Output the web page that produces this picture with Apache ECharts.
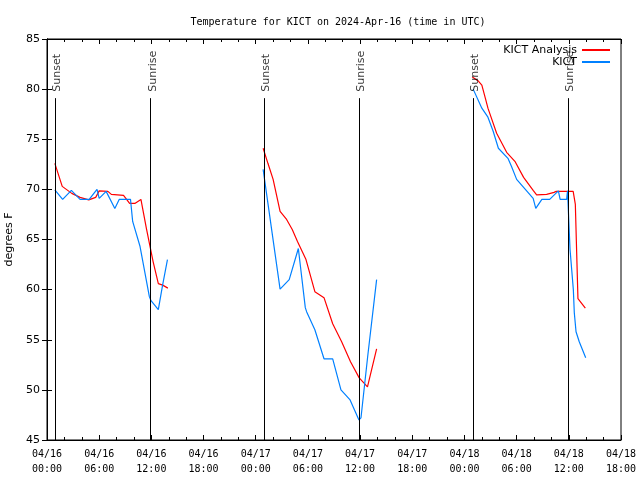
<!DOCTYPE html>
<html><head><meta charset="utf-8">
<script src="https://cdn.jsdelivr.net/npm/echarts@6/dist/echarts.min.js"></script>
<style>html,body{margin:0;padding:0;background:#fff}#c{width:640px;height:480px}</style>
</head><body><div id="c"></div>
<script>
// Hours since 2024-04-16 00:00 UTC
var anaTimes1 = [0.9,1.75,2.85,3.8,4.8,5.6,6.0,7.0,7.4,8.8,9.5,10.1,10.8,11.45,12.2,12.8,13.3,13.9];
var anaVals1  = [72.6,70.3,69.6,69.2,68.95,69.2,69.85,69.8,69.5,69.4,68.6,68.6,69.0,66.0,62.8,60.6,60.45,60.15];
var anaTimes2 = [24.85,25.4,26.0,26.8,27.55,28.2,28.8,29.78,30.8,31.85,32.85,33.88,34.9,35.9,36.85,37.9];
var anaVals2  = [74.1,72.6,71.0,67.8,67.0,66.0,64.8,63.0,59.8,59.2,56.6,54.8,52.8,51.2,50.3,54.1];
var anaTimes3 = [48.9,49.6,50.0,50.4,50.7,51.7,52.85,53.8,54.8,55.9,56.3,57.45,58.3,58.55,60.5,60.75,61.05,61.9];
var anaVals3  = [81.2,80.8,80.4,79.1,78.1,75.6,73.7,72.8,71.2,69.9,69.45,69.5,69.7,69.8,69.8,68.5,59.1,58.15];

var obsTimes1 = [0.9,1.8,2.8,3.8,4.85,5.75,6.0,6.8,7.8,8.3,9.6,9.85,10.7,11.77,11.96,12.8,13.26,13.85];
var obsVals1  = [69.95,69.0,69.9,69.0,69.0,70.0,69.1,69.8,68.1,69.0,69.0,66.8,64.3,59.3,58.9,58.0,60.3,63.0];
var obsTimes2 = [24.85,26.8,27.85,28.9,29.7,29.85,30.8,31.85,32.85,33.8,34.85,35.87,36.1,36.87,37.9];
var obsVals2  = [72.0,60.05,61.0,64.1,58.2,57.8,56.0,53.1,53.1,50.0,49.0,47.0,47.2,53.3,61.0];
var obsTimes3 = [49.0,50.0,50.7,51.3,51.9,53.0,53.4,54.0,55.2,55.9,56.2,56.9,57.8,58.8,59.0,59.75,59.85,60.14,60.33,60.52,60.63,60.83,61.2,61.94];
var obsVals3  = [80.0,78.1,77.2,75.8,74.1,73.1,72.3,71.0,69.8,69.1,68.1,69.0,69.0,69.85,69.0,69.0,69.85,64.0,62.0,60.0,57.7,55.8,54.8,53.2];

var sunsetTimes  = [0.95, 24.97, 49.0];
var sunriseTimes = [11.92, 35.9, 59.88];

var xTickDays = ['04/16','04/17','04/18'];
var yTicks = [45,50,55,60,65,70,75,80,85];

function pairs(ts, vs){ return ts.map(function(t,i){ return [t, vs[i]]; }); }
function joinSegs(segs){
  var out = [];
  segs.forEach(function(s, k){
    if (k > 0) out.push([s[0][0] - 1, null]);
    out = out.concat(s);
  });
  return out;
}
var anaData = joinSegs([pairs(anaTimes1,anaVals1), pairs(anaTimes2,anaVals2), pairs(anaTimes3,anaVals3)]);
var obsData = joinSegs([pairs(obsTimes1,obsVals1), pairs(obsTimes2,obsVals2), pairs(obsTimes3,obsVals3)]);

var LINE_TOP = 79.1, LABEL_Y = 79.75;
var sunLines = [];
var sunLabels = [];
sunsetTimes.forEach(function(t){ sunLines.push([{coord:[t,LINE_TOP]},{coord:[t,45]}]); sunLabels.push({name:'Sunset', value:[t,LABEL_Y]}); });
sunriseTimes.forEach(function(t){ sunLines.push([{coord:[t,LINE_TOP]},{coord:[t,45]}]); sunLabels.push({name:'Sunrise', value:[t,LABEL_Y]}); });

function pad(n){ return (n<10?'0':'')+n; }
function xLabel(v){
  var d = Math.floor(v/24), h = Math.round(v - d*24);
  return (xTickDays[d] || ('04/' + (16+d))) + '\n' + pad(h) + ':00';
}

var sans = 'DejaVu Sans';
var mono = 'DejaVu Sans Mono';
var chart = echarts.init(document.getElementById('c'), null, {renderer:'canvas'});
var axisLine = {show:true, lineStyle:{color:'#000', width:1}};
chart.setOption({
  animation:false,
  backgroundColor:'#fff',
  title:{text:'Temperature for KICT on 2024-Apr-16 (time in UTC)', left:333, textAlign:'center', top:12,
    textStyle:{fontFamily:mono, fontSize:10, fontWeight:'normal', color:'#000'}},
  grid:{left:47, right:19, top:39, bottom:40, show:true, borderColor:'#000', borderWidth:1,
    containLabel:false, outerBoundsMode:'none'},
  legend:{orient:'vertical', right:30, top:44, padding:0, align:'right', itemWidth:28, itemHeight:2, itemGap:0, icon:'rect',
    textStyle:{fontFamily:sans, fontSize:11, color:'#000', lineHeight:12},
    data:['KICT Analysis','KICT']},
  xAxis:[{type:'value', min:0, max:66, interval:6, axisLine:axisLine,
    axisTick:{inside:true, length:5, lineStyle:{color:'#000'}},
    minorTick:{show:true, splitNumber:3, length:3, lineStyle:{color:'#000'}},
    splitLine:{show:false},
    axisLabel:{formatter:xLabel, fontFamily:mono, fontSize:10, color:'#000', lineHeight:15, margin:7}},
   {type:'value', position:'top', min:0, max:66, interval:6, axisLine:axisLine,
    axisTick:{inside:true, length:5, lineStyle:{color:'#000'}},
    minorTick:{show:true, splitNumber:3, length:3, lineStyle:{color:'#000'}},
    splitLine:{show:false}, axisLabel:{show:false}}],
  yAxis:[{type:'value', min:yTicks[0], max:yTicks[yTicks.length-1], interval:5, axisLine:axisLine,
    axisTick:{inside:true, length:5, lineStyle:{color:'#000'}}, splitLine:{show:false},
    axisLabel:{fontFamily:sans, fontSize:11, color:'#000', margin:7},
    name:'degrees F', nameLocation:'middle', nameGap:32, nameRotate:90,
    nameTextStyle:{fontFamily:sans, fontSize:11, color:'#000'}},
   {type:'value', position:'right', min:45, max:85, interval:5, axisLine:axisLine,
    axisTick:{inside:true, length:5, lineStyle:{color:'#000'}}, splitLine:{show:false}, axisLabel:{show:false}}],
  series:[
    {name:'KICT Analysis', type:'line', data:anaData, showSymbol:false, symbol:'none', connectNulls:false,
      lineStyle:{color:'#ff0000', width:1.2}, itemStyle:{color:'#ff0000'}, z:3},
    {name:'KICT', type:'line', data:obsData, showSymbol:false, symbol:'none', connectNulls:false,
      lineStyle:{color:'#0080ff', width:1.2}, itemStyle:{color:'#0080ff'}, z:4},
    {name:'sun', type:'scatter', data:sunLabels, symbolSize:0, silent:true, z:5,
      label:{show:true, formatter:'{b}', position:'inside', rotate:90, align:'left', verticalAlign:'middle',
        fontFamily:sans, fontSize:11, color:'#000', offset:[0,2]},
      markLine:{silent:true, symbol:['none','none'], label:{show:false},
        lineStyle:{color:'#000', width:1, type:'solid'}, data:sunLines}}
  ]
});
</script></body></html>
